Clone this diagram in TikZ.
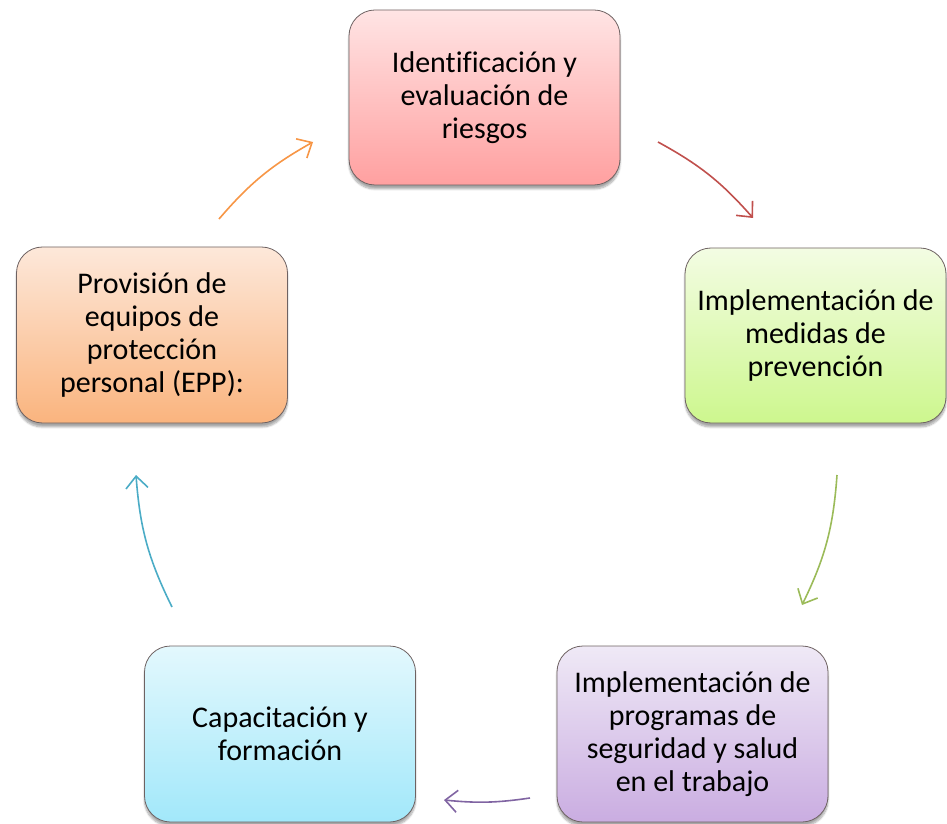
\documentclass[tikz,border=0pt]{standalone}
\usepackage{fontspec}
\setmainfont{Carlito}[Ligatures=NoCommon]
\usetikzlibrary{arrows.meta,shadows.blur}
\definecolor{redtop}{HTML}{FFE4E4}\definecolor{redbot}{HTML}{FFA0A0}
\definecolor{grntop}{HTML}{F3FCE3}\definecolor{grnbot}{HTML}{CDF78E}
\definecolor{orgtop}{HTML}{FDE8DA}\definecolor{orgbot}{HTML}{FAB47E}
\definecolor{cyntop}{HTML}{E3F8FD}\definecolor{cynbot}{HTML}{A2E8FA}
\definecolor{purtop}{HTML}{EFE9F6}\definecolor{purbot}{HTML}{CAADE1}
\definecolor{redarr}{HTML}{C0504D}\definecolor{grnarr}{HTML}{9BBB59}
\definecolor{purarr}{HTML}{8064A2}\definecolor{cynarr}{HTML}{4BACC6}
\definecolor{orgarr}{HTML}{F79646}\definecolor{boxline}{HTML}{6E6262}
\tikzset{
  stepbox/.style={draw=boxline, line width=0.8pt, rounded corners=26pt,
    minimum width=271pt, minimum height=175pt, align=center,
    font=\fontsize{30}{33}\selectfont, inner sep=0pt,
    blur shadow={shadow blur steps=8, shadow xshift=0pt, shadow yshift=-4pt, shadow opacity=35}},
  cyc/.style={line width=1.6pt, -{Straight Barb[length=12pt,width=22pt,line width=1.6pt]}}
}
\begin{document}
\begin{tikzpicture}[x=1pt,y=1pt]
\useasboundingbox (0,0) rectangle (947,823);
\node[stepbox, top color=redtop, bottom color=redbot] (ident) at (484.5,725.5)
  {Identificación y\\evaluación de\\riesgos};
\node[stepbox, minimum width=261pt, top color=grntop, bottom color=grnbot] (prev) at (815.5,487.5)
  {Implementación de\\medidas de\\prevención};
\node[stepbox, top color=purtop, bottom color=purbot, minimum height=176pt] (prog) at (692.5,89)
  {Implementación de\\programas de\\seguridad y salud\\en el trabajo};
\node[stepbox, top color=cyntop, bottom color=cynbot, minimum height=176pt] (capa) at (280,89)
  {Capacitación y\\formación};
\node[stepbox, top color=orgtop, bottom color=orgbot, minimum height=176pt] (epp) at (152,488)
  {Provisión de\\equipos de\\protección\\personal (EPP):};
\coordinate (r1) at (658,681); \coordinate (r2) at (753,605);
\coordinate (g1) at (837,348); \coordinate (g2) at (802,218);
\coordinate (p1) at (530,25);  \coordinate (p2) at (444,23);
\coordinate (c1) at (172,216); \coordinate (c2) at (136,348);
\coordinate (o1) at (219,604); \coordinate (o2) at (313,681);
\draw[cyc, redarr] (r1) to[bend left=10] (r2);
\draw[cyc, grnarr] (g1) to[bend left=11] (g2);
\draw[cyc, purarr] (p1) to[bend left=7] (p2);
\draw[cyc, cynarr] (c1) to[bend left=11] (c2);
\draw[cyc, orgarr] (o1) to[bend left=10] (o2);
\end{tikzpicture}
\end{document}
